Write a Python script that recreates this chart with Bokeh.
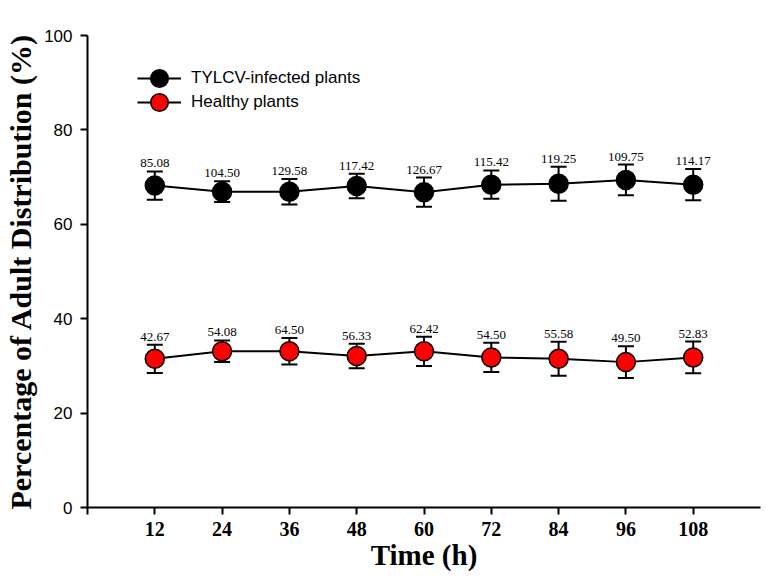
from bokeh.plotting import figure
from bokeh.models import (ColumnDataSource, Whisker, TeeHead, FixedTicker, Legend,
                          LegendItem, Range1d)
from bokeh.core.properties import value
from bokeh.embed import file_html
from bokeh.resources import INLINE

times = [12, 24, 36, 48, 60, 72, 84, 96, 108]
infected_mean = [68.2, 66.9, 66.9, 68.1, 66.8, 68.4, 68.6, 69.4, 68.4]
infected_err = [3.0, 2.2, 2.7, 2.6, 3.1, 3.0, 3.6, 3.25, 3.3]
infected_labels = ["85.08", "104.50", "129.58", "117.42", "126.67", "115.42", "119.25", "109.75", "114.17"]
healthy_mean = [31.5, 33.1, 33.1, 32.1, 33.1, 31.8, 31.5, 30.8, 31.8]
healthy_err = [3.0, 2.3, 2.8, 2.6, 3.1, 3.1, 3.6, 3.35, 3.35]
healthy_labels = ["42.67", "54.08", "64.50", "56.33", "62.42", "54.50", "55.58", "49.50", "52.83"]
x_ticks = [0, 12, 24, 36, 48, 60, 72, 84, 96, 108]
y_ticks = [0, 20, 40, 60, 80, 100]

p = figure(width=766, height=577, output_backend="svg", toolbar_location=None,
           x_range=Range1d(0, 120), y_range=Range1d(0, 100),
           min_border_left=87, min_border_top=35, min_border_right=6, min_border_bottom=70)
p.outline_line_color = None
p.xgrid.visible = False
p.ygrid.visible = False

def src(mean, err, labels):
    return ColumnDataSource(dict(x=times, y=mean,
                                 upper=[m + e for m, e in zip(mean, err)],
                                 lower=[m - e for m, e in zip(mean, err)],
                                 lab=labels))

s_inf = src(infected_mean, infected_err, infected_labels)
s_hea = src(healthy_mean, healthy_err, healthy_labels)

legend_rows = [406, 382]
for s, fill, name, ly in [(s_inf, "black", "TYLCV-infected plants", legend_rows[0]),
                          (s_hea, "#FF0000", "Healthy plants", legend_rows[1])]:
    w = Whisker(base="x", upper="upper", lower="lower", source=s, line_width=2, line_color="black",
                upper_head=TeeHead(size=16, line_width=2, line_color="black"),
                lower_head=TeeHead(size=16, line_width=2, line_color="black"))
    p.add_layout(w)
    ln = p.line("x", "y", source=s, line_color="black", line_width=2)
    sc = p.scatter("x", "y", source=s, size=19, fill_color=fill, line_color="black", line_width=1.5)
    p.text("x", "upper", text="lab", source=s, text_align="center", text_baseline="bottom",
           y_offset=-4, text_font=value("Liberation Serif"), text_font_size="13px", text_color="black")
    legend = Legend(items=[LegendItem(label=name, renderers=[ln, sc])], location=(50, ly),
                    padding=0, margin=0, spacing=0,
                    glyph_width=44, glyph_height=46, label_height=20, label_standoff=10,
                    label_text_font="Liberation Sans", label_text_font_size="17px",
                    label_text_color="black",
                    border_line_color=None, background_fill_alpha=0)
    p.add_layout(legend, "center")

for ax in [p.xaxis[0], p.yaxis[0]]:
    ax.axis_line_width = 2
    ax.major_tick_line_width = 2
    ax.major_tick_out = 7
    ax.major_tick_in = 0
    ax.minor_tick_out = 0
    ax.minor_tick_in = 0
    ax.axis_label_text_font = "Liberation Serif"
    ax.axis_label_text_font_style = "bold"
    ax.axis_label_text_color = "black"
    ax.major_label_text_color = "black"

p.xaxis.ticker = FixedTicker(ticks=x_ticks)
p.xaxis.major_label_overrides = {0: ""}
p.xaxis.major_label_text_font = "Liberation Serif"
p.xaxis.major_label_text_font_style = "bold"
p.xaxis.major_label_text_font_size = "20px"
p.xaxis.major_label_standoff = 7
p.xaxis.axis_label = "Time (h)"
p.xaxis.axis_label_text_font_size = "29px"
p.xaxis.axis_label_standoff = 0

p.yaxis.ticker = FixedTicker(ticks=y_ticks)
p.yaxis.major_label_text_font = "Liberation Sans"
p.yaxis.major_label_text_font_size = "17px"
p.yaxis.major_label_standoff = 8
p.yaxis.axis_label = "Percentage of Adult Distribution (%)"
p.yaxis.axis_label_text_font_size = "30px"
p.yaxis.axis_label_standoff = 4

open("out.html", "w").write(file_html(p, INLINE))
